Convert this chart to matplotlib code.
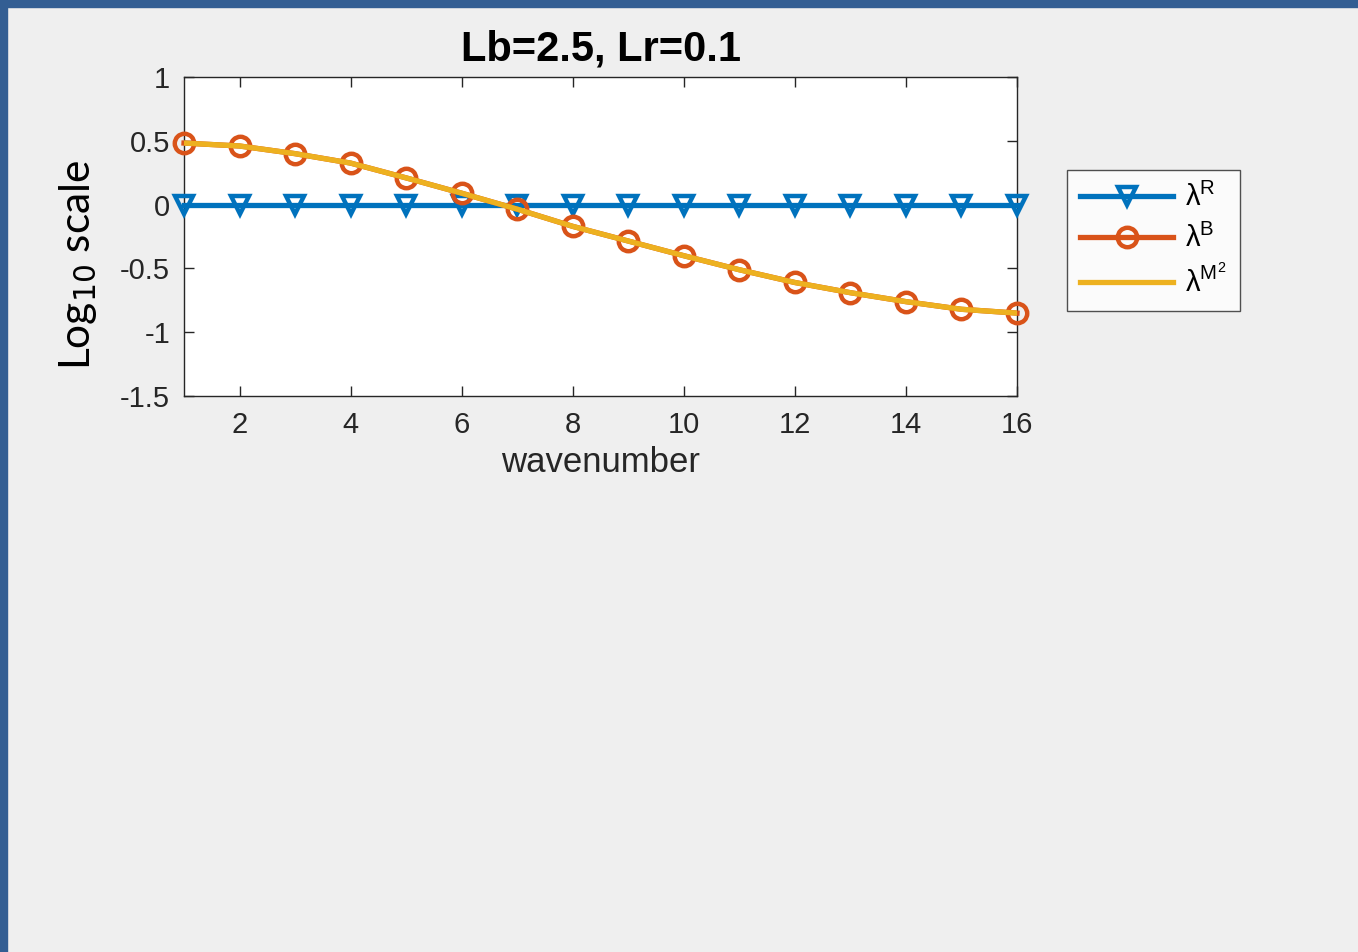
import matplotlib.pyplot as plt
import numpy as np
from matplotlib.patches import Rectangle

# data
wavenumber = np.arange(1, 17)
lam_R = [0, 0, 0, 0, 0, 0, 0, 0, 0, 0, 0, 0, 0, 0, 0, 0]
lam_B = [0.483, 0.46, 0.40, 0.326, 0.21, 0.09, -0.035, -0.17,
         -0.285, -0.40, -0.51, -0.61, -0.69, -0.76, -0.82, -0.85]
lam_M2 = lam_B
xticks = [2, 4, 6, 8, 10, 12, 14, 16]
yticks = [-1.5, -1, -0.5, 0, 0.5, 1]
ytick_labels = ["-1.5", "-1", "-0.5", "0", "0.5", "1"]

plt.rcParams['font.family'] = ['Liberation Sans', 'DejaVu Sans']
plt.rcParams['mathtext.fontset'] = 'custom'
plt.rcParams['mathtext.rm'] = 'Liberation Sans'
plt.rcParams['mathtext.it'] = 'Liberation Sans:italic'

blue = '#0072BD'
orange = '#D95319'
yellow = '#EDB120'
dark = '#262626'

fig = plt.figure(figsize=(13.58, 9.52), dpi=100, facecolor='#EFEFEF')
# slide border (top and left)
fig.patches.append(Rectangle((0, 0.9926), 1, 0.0074, transform=fig.transFigure,
                             color='#335E93', zorder=0))
fig.patches.append(Rectangle((0, 0), 0.0052, 1, transform=fig.transFigure,
                             color='#335E93', zorder=0))

ax = fig.add_axes([0.1355, 0.584, 0.6134, 0.335])
ax.plot(wavenumber, lam_R, color=blue, lw=3.8, marker='v', ms=13,
        mfc='none', mew=3.2, label='λ$^{\\mathrm{R}}$', zorder=3, clip_on=False)
ax.plot(wavenumber, lam_B, color=orange, lw=3.8, marker='o', ms=14,
        mfc='none', mew=3.2, label='λ$^{\\mathrm{B}}$', zorder=4, clip_on=False)
ax.plot(wavenumber, lam_M2, color=yellow, lw=3.8,
        label='λ$^{\\mathrm{M}^2}$', zorder=5)

ax.set(xlim=(1, 16), ylim=(-1.5, 1), xticks=xticks, yticks=yticks)
ax.set_yticklabels(ytick_labels)
ax.tick_params(direction='in', length=7, width=1, colors=dark, labelsize=21,
               top=True, right=True)
ax.tick_params(axis='x', pad=11)
ax.tick_params(axis='y', pad=10)
for s in ax.spines.values():
    s.set_color(dark)
    s.set_linewidth(1)

ax.set_title("Lb=2.5, Lr=0.1", fontsize=30, fontweight='bold', color='black', pad=12)
ax.set_xlabel("wavenumber", fontsize=25, color=dark, labelpad=5)

fig.text(0.058, 0.722, r'Log$_{10}$ scale', rotation=90, fontsize=30.5,
         family='Lato', ha='center', va='center',
         math_fontfamily='dejavusans')

leg = ax.legend(loc='upper left', bbox_to_anchor=(0.7857, 0.8214), bbox_transform=fig.transFigure,
                fontsize=21, frameon=True, fancybox=False, edgecolor=dark,
                handlelength=3.2, handletextpad=0.4, labelspacing=0.4,
                borderpad=0.45, borderaxespad=0)
leg.get_frame().set_linewidth(1)

fig.savefig('out.png', dpi=100, facecolor=fig.get_facecolor())
